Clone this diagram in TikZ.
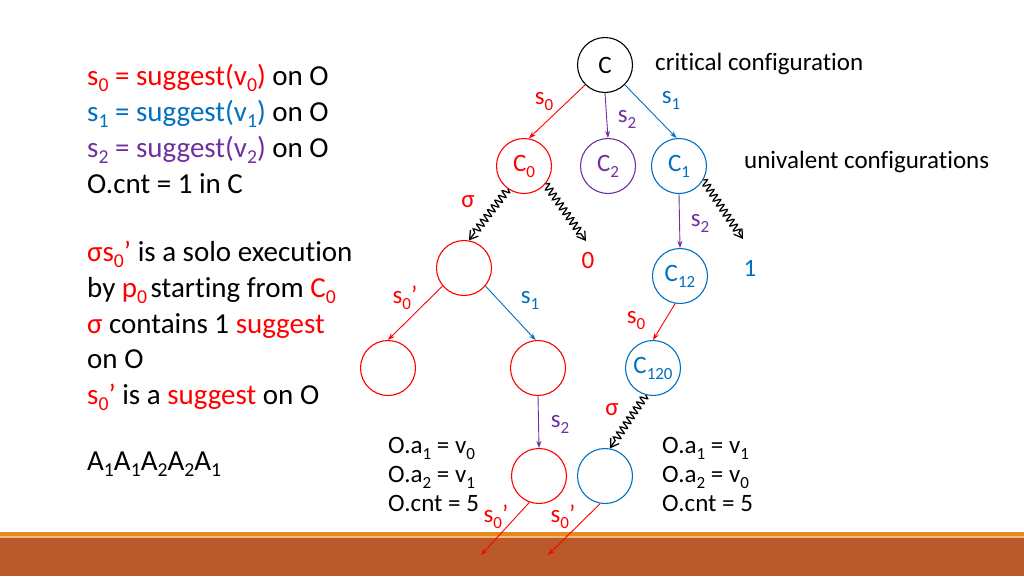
\documentclass[tikz,border=0pt]{standalone}
\usepackage{fontspec}
\setmainfont{Carlito}[Ligatures={NoCommon}]
\usetikzlibrary{decorations.pathmorphing,arrows.meta}
\definecolor{pred}{HTML}{FF0000}
\definecolor{pblue}{HTML}{0070C0}
\definecolor{ppurple}{HTML}{7030A0}
\definecolor{bandor}{HTML}{E48A1F}
\definecolor{bandlt}{HTML}{F2B77A}
\definecolor{bandbr}{HTML}{BA5A2C}
\newcommand{\sbs}[1]{\raisebox{-0.24em}{\scalebox{0.68}{#1}}}
\begin{document}
\begin{tikzpicture}[x=1pt,y=-1pt,
  every node/.style={inner sep=0pt, font=\fontsize{25}{30}\selectfont},
  cfg/.style={circle, draw, minimum size=55pt, inner sep=0pt, line width=1.1pt},
  edge/.style={-{Stealth[length=7pt,width=5pt]}, line width=0.9pt},
  wig/.style={decorate, decoration={snake, amplitude=3.6pt, segment length=6pt, post length=7pt},
     -{Straight Barb[length=8pt,width=10pt]}, line width=1.25pt, black},
  big/.style={font=\fontsize{29}{36}\selectfont, anchor=base west},
  txt/.style={anchor=base west}]
\useasboundingbox (0,0) rectangle (1024,576);
% bottom band
\fill[bandor] (0,531.5) rectangle (1024,536);
\fill[bandlt] (0,536) rectangle (1024,537.5);
\fill[bandbr] (0,537.5) rectangle (1024,576);

% left text
\node[big] (l1) at (87,85) {\textcolor{pred}{s\sbs{0} = suggest(v\sbs{0})} on O};
\node[big] (l2) at (87,121) {\textcolor{pblue}{s\sbs{1} = suggest(v\sbs{1})} on O};
\node[big] (l3) at (87,157) {\textcolor{ppurple}{s\sbs{2} = suggest(v\sbs{2})} on O};
\node[big] (l4) at (87,193) {O.cnt = 1 in C};
\node[big] (m1) at (87,261) {\textcolor{pred}{σs\sbs{0}’} is a solo execution};
\node[big] (m2) at (87,297) {by \textcolor{pred}{p\sbs{0}}\hspace{0.12em}starting from \textcolor{pred}{C\sbs{0}}};
\node[big] (m3) at (87,333) {\textcolor{pred}{σ} contains 1 \textcolor{pred}{suggest}};
\node[big] (m4) at (87,368) {on O};
\node[big] (m5) at (87,404) {\textcolor{pred}{s\sbs{0}’} is a \textcolor{pred}{suggest} on O};
\node[big] (m6) at (87,470) {A\sbs{1}A\sbs{1}A\sbs{2}A\sbs{2}A\sbs{1}};

% right labels
\node[txt] (crit) at (655,70) {critical configuration};
\node[txt] (univ) at (744,168) {univalent configurations};

% configurations
\node[cfg, black] (C) at (605,65) {C};
\node[cfg, pred] (C0) at (524,166) {C\sbs{0}};
\node[cfg, ppurple] (C2) at (608,166) {C\sbs{2}};
\node[cfg, pblue] (C1) at (679,166) {C\sbs{1}};
\node[cfg, pred] (R) at (464,268) {};
\node[cfg, pred] (RL) at (388,368) {};
\node[cfg, pred] (RR) at (538,368) {};
\node[cfg, pblue] (C12) at (680,276) {C\sbs{12}};
\node[cfg, pblue] (C120) at (653,368) {C\sbs{120}};
\node[cfg, pred] (B1) at (539,476) {};
\node[cfg, pblue] (B2) at (605,476) {};

% outcome labels
\node[pred] (zero) at (588,260) {0};
\node[pblue] (one) at (750,268) {1};
\coordinate (zt) at (586,241);
\coordinate (ot) at (743,239);
\coordinate (e1) at (481,555);
\coordinate (e2) at (548,555);

% straight edges
\draw[edge, pred] (C.225) -- (C0.80);
\draw[edge, ppurple] (C.270) -- (C2.90);
\draw[edge, pblue] (C.315) -- (C1.95);
\draw[edge, ppurple] (C1.270) -- (C12.90);
\draw[edge, pred] (R.220) -- (RL.90);
\draw[edge, pblue] (R.320) -- (RR.95);
\draw[edge, pred] (C12.260) -- (C120.90);
\draw[edge, ppurple] (RR.270) -- (B1.90);
\draw[edge, pred] (B1.250) -- (e1);
\draw[edge, pred] (B2.260) -- (e2);

% wiggly executions
\draw[wig] (C0.235) -- (R.80);
\draw[wig] (C0.320) -- (zt);
\draw[wig] (C1.330) -- (ot);
\draw[wig] (C120.255) -- (B2.80);

% edge labels
\node[pred] (ls0) at (544,101) {s\sbs{0}};
\node[ppurple] (ls2) at (627,119) {s\sbs{2}};
\node[pblue] (ls1) at (671,100) {s\sbs{1}};
\node[pred] (lsig) at (468,202) {σ};
\node[ppurple] (ls2b) at (700,223) {s\sbs{2}};
\node[pred] (ls0p) at (405,298) {s\sbs{0}’};
\node[pblue] (ls1b) at (530,300) {s\sbs{1}};
\node[pred] (ls0b) at (636,320) {s\sbs{0}};
\node[pred] (lsig2) at (612,410) {σ};
\node[ppurple] (ls2c) at (560,424) {s\sbs{2}};
\node[pred] (ls0q) at (496,517) {s\sbs{0}’};
\node[pred] (ls0r) at (563,517) {s\sbs{0}’};

% state blocks
\node[txt] (a1) at (388,453) {O.a\sbs{1} = v\sbs{0}};
\node[txt] (a2) at (388,482) {O.a\sbs{2} = v\sbs{1}};
\node[txt] (a3) at (388,511) {O.cnt = 5};
\node[txt] (b1) at (662,453) {O.a\sbs{1} = v\sbs{1}};
\node[txt] (b2) at (662,482) {O.a\sbs{2} = v\sbs{0}};
\node[txt] (b3) at (662,511) {O.cnt = 5};
\end{tikzpicture}
\end{document}
